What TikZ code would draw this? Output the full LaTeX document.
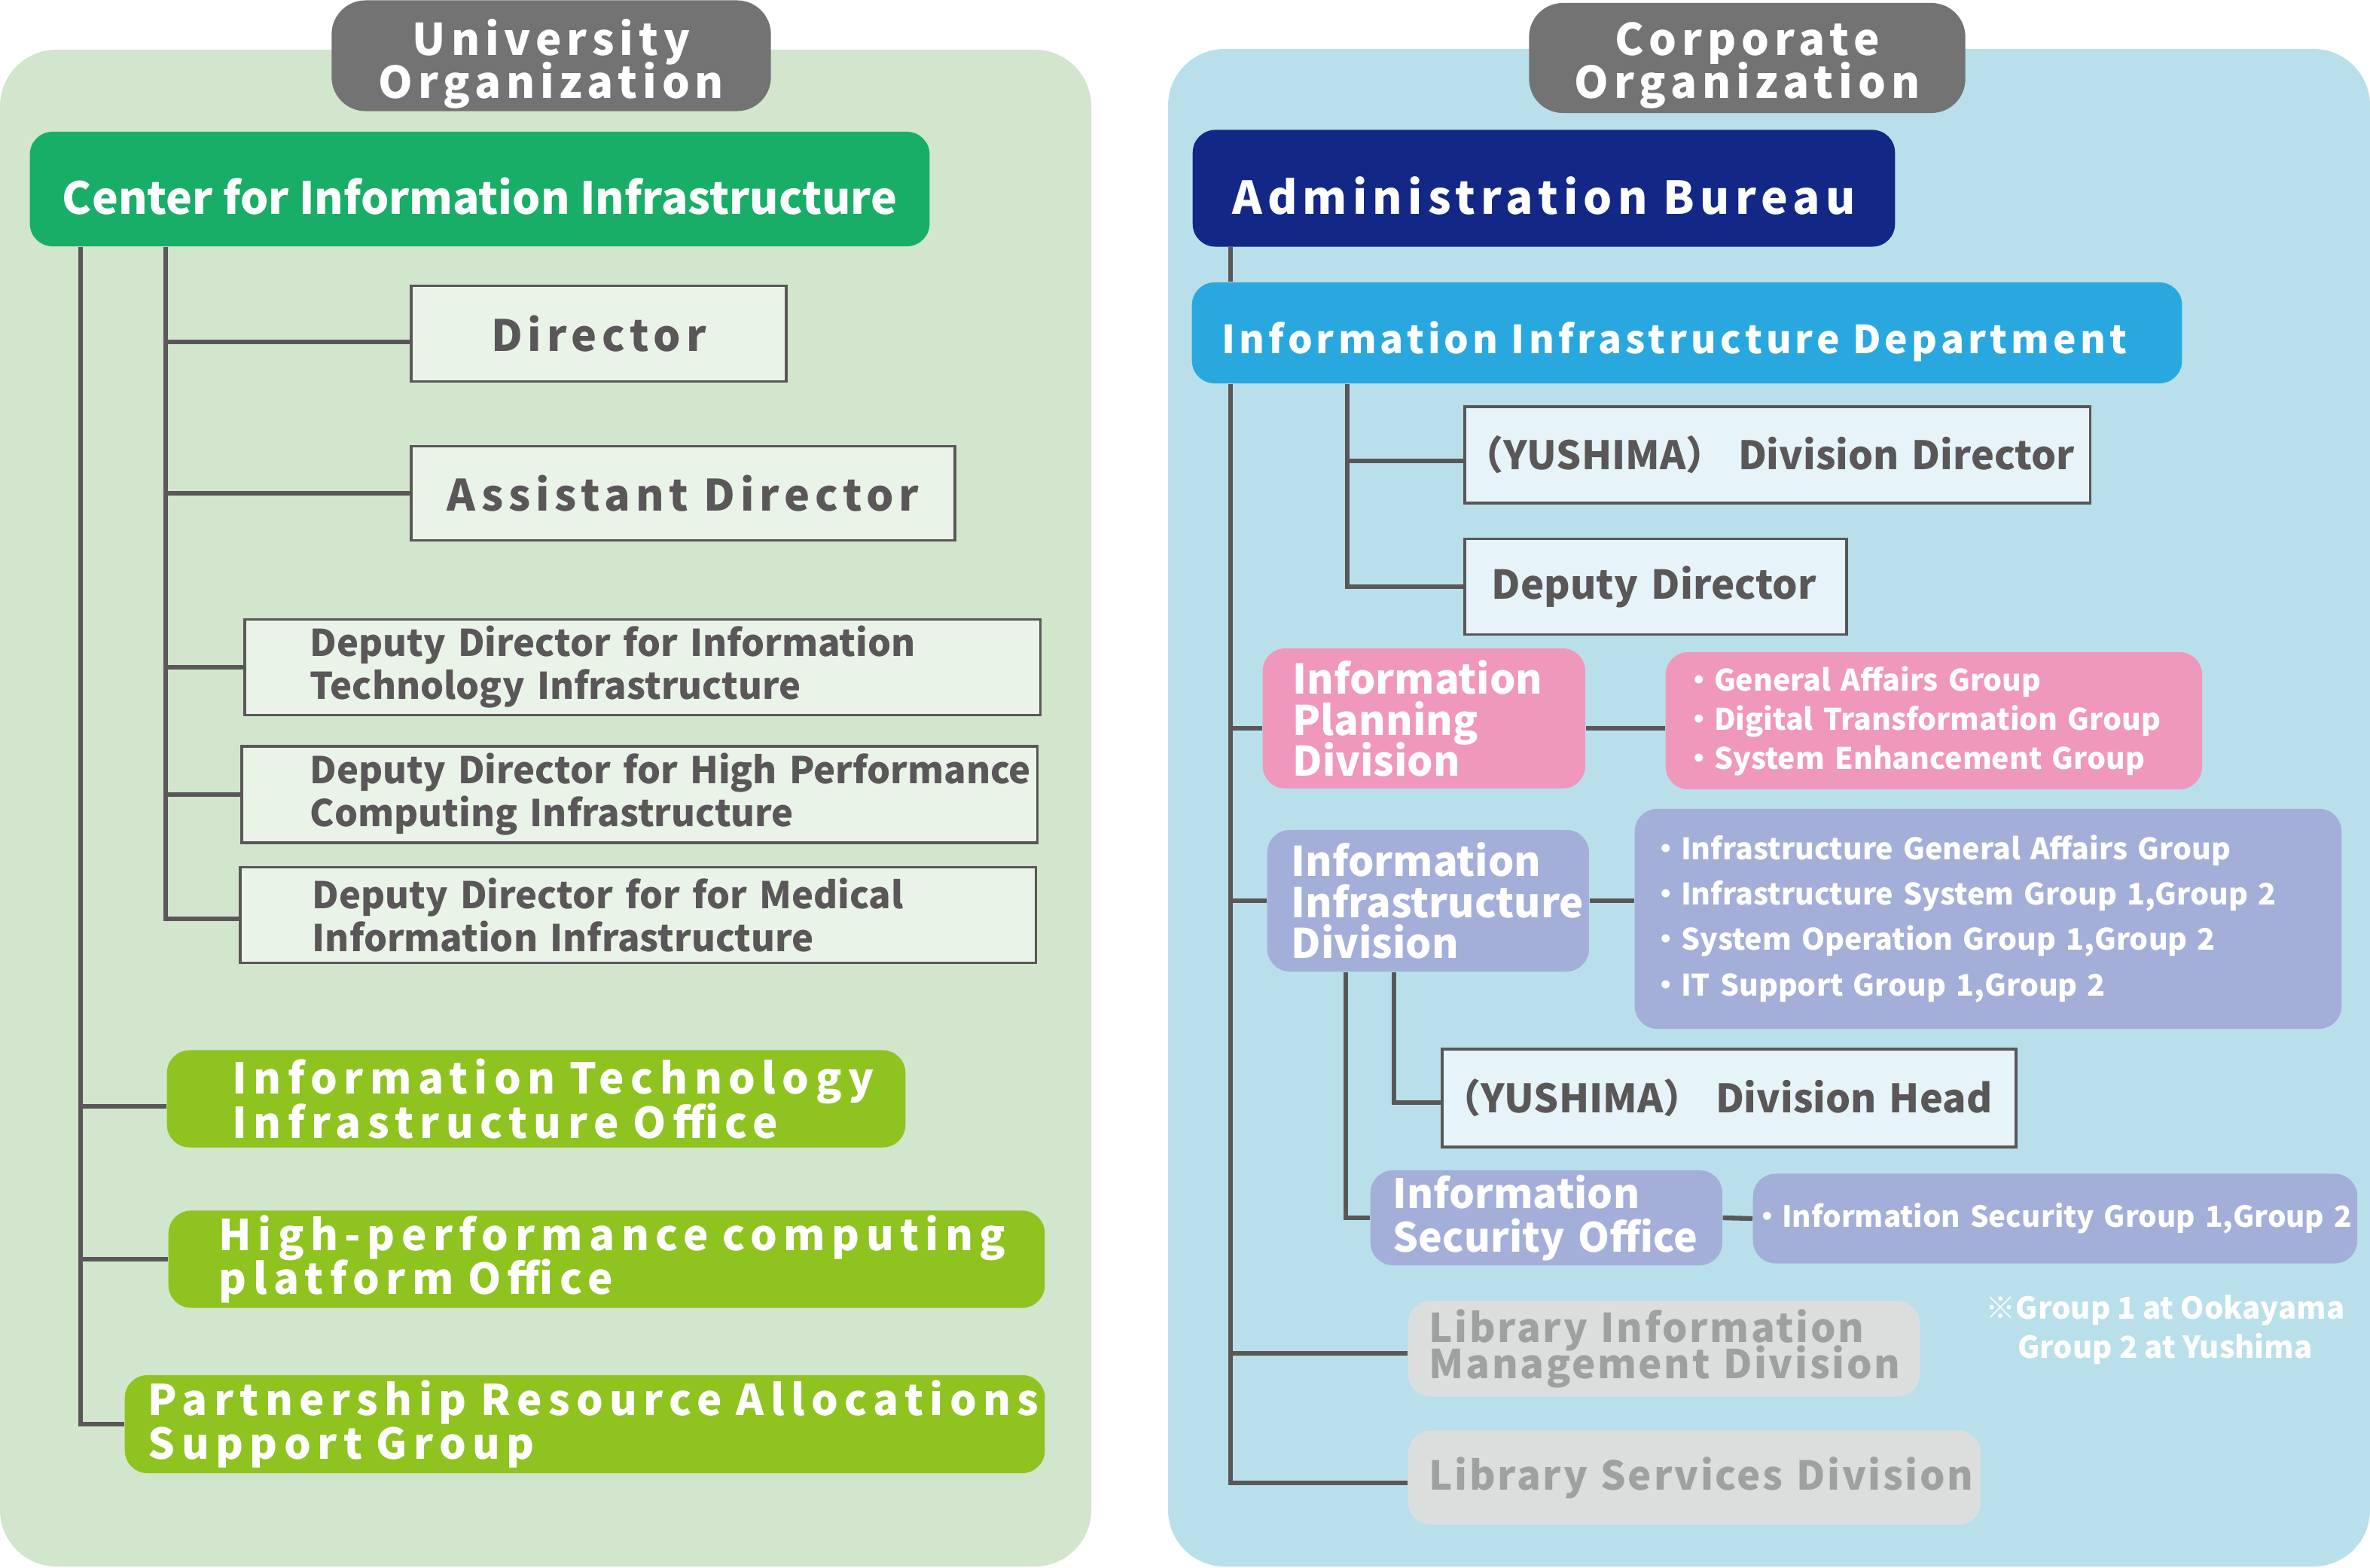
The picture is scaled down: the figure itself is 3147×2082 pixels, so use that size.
\documentclass[tikz,border=0pt]{standalone}
\usepackage{fontspec}
\setmainfont{Noto Sans CJK JP}
\newfontfamily\widefont[LetterSpace=12]{Noto Sans CJK JP}
\newfontfamily\limefont[LetterSpace=15]{Noto Sans CJK JP}
\newfontfamily\deptfont[LetterSpace=10]{Noto Sans CJK JP}
\newfontfamily\libfont[LetterSpace=5]{Noto Sans CJK JP}
\usepackage{tikz}
\usepackage{xcolor}
\lineskiplimit=-20pt
\definecolor{univbg}{HTML}{D1E6CC}
\definecolor{corpbg}{HTML}{B9E0EA}
\definecolor{tabgray}{HTML}{737373}
\definecolor{ciigreen}{HTML}{18AE67}
\definecolor{limegreen}{HTML}{8FC31F}
\definecolor{navyblue}{HTML}{132886}
\definecolor{deptblue}{HTML}{29A8E0}
\definecolor{pinkdiv}{HTML}{F097BC}
\definecolor{lavdiv}{HTML}{A3AFD8}
\definecolor{libgray}{HTML}{DCDDDD}
\definecolor{libtext}{HTML}{9FA0A0}
\definecolor{darktext}{HTML}{595757}
\definecolor{paleG}{HTML}{EAF3E7}
\definecolor{paleB}{HTML}{E6F3F8}
\tikzstyle{conn}=[draw=darktext,line width=1.8pt]
\tikzstyle{tab}=[fill=tabgray,rounded corners=0.45cm,text=white,align=center,inner sep=0,
  font={\widefont\bfseries\fontsize{16.5}{16}\selectfont\lineskiplimit=-20pt}]
\tikzstyle{plainbox}=[draw=darktext,line width=1pt,text=darktext,inner sep=0]
\tikzstyle{colbox}=[rounded corners=0.3cm,text=white,inner sep=0]
\tikzstyle{leftbox}=[anchor=west,align=left]
\tikzstyle{deputy}=[plainbox,fill=paleG,leftbox,minimum width=10.56cm,
  font={\bfseries\fontsize{13.9}{16.2}\selectfont\lineskiplimit=-20pt}]
\tikzstyle{office}=[colbox,fill=limegreen,leftbox,
  font={\limefont\bfseries\fontsize{16}{16.5}\selectfont\lineskiplimit=-20pt}]
\tikzstyle{division}=[colbox,leftbox,
  font={\bfseries\fontsize{15.4}{15.6}\selectfont\lineskiplimit=-20pt}]
\tikzstyle{groups}=[colbox,leftbox,
  font={\bfseries\fontsize{11.2}{14.8}\selectfont\lineskiplimit=-20pt}]
\tikzstyle{library}=[colbox,fill=libgray,text=libtext,leftbox,
  font={\libfont\bfseries\fontsize{15}{13.7}\selectfont\lineskiplimit=-20pt}]

\begin{document}
\begin{tikzpicture}[x=0.01cm,y=-0.01cm]
  \useasboundingbox (0,0) rectangle (3147,2082);

  % PANELS
  \fill[univbg,rounded corners=0.75cm] (0,66) rectangle (1449,2080);
  \fill[corpbg,rounded corners=0.75cm] (1551,65) rectangle (3147,2080);

  % TRUNKS
  \coordinate (tA) at (107,0);
  \coordinate (tB) at (220,0);
  \coordinate (tC) at (1634,0);
  \coordinate (tD) at (1789,0);
  \coordinate (tE) at (1787,0);
  \coordinate (tF) at (1851,0);

  % UNIVERSITY
  \node[tab,minimum width=5.83cm,minimum height=1.47cm] (univ) at (732,74)
    {\rule{0pt}{0.70cm}University\\Organization};
  \node[colbox,fill=ciigreen,minimum width=11.94cm,minimum height=1.52cm,
    text height=0.66cm,text depth=0cm,
    font={\bfseries\fontsize{16.7}{17}\selectfont}] (cii) at (637,251)
    {Center for Information Infrastructure};
  \node[plainbox,fill=paleG,minimum width=4.98cm,minimum height=1.27cm,
    font={\widefont\bfseries\fontsize{16.3}{17}\selectfont}] (dir) at (795,443) {Director};
  \node[plainbox,fill=paleG,minimum width=7.22cm,minimum height=1.25cm,
    font={\widefont\bfseries\fontsize{16.3}{17}\selectfont}] (asst) at (907,655)
    {Assistant Director};
  \node[deputy,minimum height=1.27cm,text width=8.82cm] (dep1) at (323,886)
    {\mbox{Deputy Director for Information}\\\mbox{Technology Infrastructure}};
  \node[deputy,minimum height=1.28cm,text width=8.74cm] (dep2) at (319,1055)
    {\mbox{Deputy Director for High Performance}\\\mbox{Computing Infrastructure}};
  \node[deputy,minimum height=1.27cm,text width=8.64cm] (dep3) at (317,1215)
    {\mbox{Deputy Director for for Medical}\\\mbox{Information Infrastructure}};
  \node[office,minimum width=9.80cm,minimum height=1.29cm,text width=8.06cm] (itoff) at (221,1459)
    {\mbox{Information Technology}\\\mbox{Infrastructure Office}};
  \node[office,minimum width=11.63cm,minimum height=1.29cm,text width=10.29cm] (hpc) at (223,1672)
    {\mbox{High-performance computing}\\\mbox{platform Office}};
  \node[office,minimum width=12.21cm,minimum height=1.30cm,text width=11.59cm] (prasg) at (165,1891)
    {\mbox{Partnership Resource Allocations}\\\mbox{Support Group}};

  \draw[conn] (cii.south -| tA) |- (prasg.west);
  \draw[conn] ([yshift=-0.1cm]tA |- itoff.west) -- ([yshift=-0.1cm]itoff.west);
  \draw[conn] (tA |- hpc.west) -- (hpc.west);
  \draw[conn] (cii.south -| tB) |- ([yshift=-0.05cm]dep3.west);
  \draw[conn] ([yshift=-0.11cm]tB |- dir.west) -- ([yshift=-0.11cm]dir.west);
  \draw[conn] (tB |- asst.west) -- (asst.west);
  \draw[conn] (tB |- dep1.west) -- (dep1.west);
  \draw[conn] (tB |- dep2.west) -- (dep2.west);

  % CORPORATE
  \node[tab,minimum width=5.79cm,minimum height=1.46cm] (corp) at (2320,77)
    {\rule{0pt}{0.64cm}Corporate\\Organization};
  \node[colbox,fill=navyblue,minimum width=9.32cm,minimum height=1.55cm,
    text height=0.68cm,text depth=0cm,
    font={\widefont\bfseries\fontsize{17.1}{17}\selectfont}] (admin) at (2050,250)
    {Administration Bureau};
  \node[colbox,fill=deptblue,leftbox,minimum width=13.14cm,minimum height=1.34cm,text width=12.34cm,
    text height=0.54cm,text depth=0cm,
    font={\deptfont\bfseries\fontsize{14.65}{16}\selectfont}] (dept) at (1582,442)
    {\mbox{Information Infrastructure Department}};
  \node[plainbox,fill=paleB,leftbox,minimum width=8.30cm,minimum height=1.28cm,text width=8.30cm,
    font={\bfseries\fontsize{14.8}{16}\selectfont}] (ydir) at (1943,604)
    {\mbox{（YUSHIMA） Division Director}};
  \node[plainbox,fill=paleB,leftbox,minimum width=5.07cm,minimum height=1.27cm,text width=4.35cm,
    font={\bfseries\fontsize{15}{16}\selectfont}] (ddep) at (1943,779)
    {\mbox{Deputy Director}};
  \node[division,fill=pinkdiv,minimum width=4.28cm,minimum height=1.86cm,text width=3.48cm] (ipd) at (1676,954)
    {Information\\Planning\\Division};
  \node[groups,fill=pinkdiv,minimum width=7.12cm,minimum height=1.82cm,text width=6.62cm] (ipdg) at (2211,957)
    {\mbox{・General Affairs Group}\\\mbox{・Digital Transformation Group}\\\mbox{・System Enhancement Group}};
  \node[division,fill=lavdiv,minimum width=4.27cm,minimum height=1.88cm,text width=3.63cm] (iid) at (1682,1196)
    {Information\\\mbox{Infrastructure}\\Division};
  \node[groups,fill=lavdiv,minimum width=9.38cm,minimum height=2.92cm,text width=8.94cm,
    font={\bfseries\fontsize{11.2}{17.1}\selectfont}] (iidg) at (2170,1220)
    {\mbox{・Infrastructure General Affairs Group}\\\mbox{・Infrastructure System Group 1,Group 2}\\
     \mbox{・System Operation Group 1,Group 2}\\\mbox{・IT Support Group 1,Group 2}};
  \node[plainbox,fill=paleB,leftbox,minimum width=7.62cm,minimum height=1.30cm,text width=7.62cm,
    font={\bfseries\fontsize{14.8}{16}\selectfont}] (yhead) at (1913,1458)
    {\mbox{（YUSHIMA） Division Head}};
  \node[division,fill=lavdiv,minimum width=4.67cm,minimum height=1.26cm,text width=4.07cm,
    font={\bfseries\fontsize{15.2}{16.5}\selectfont\lineskiplimit=-20pt}] (iso) at (1819,1617)
    {Information\\\mbox{Security Office}};
  \node[groups,fill=lavdiv,minimum width=8.02cm,minimum height=1.19cm,text width=8.02cm,
    font={\bfseries\fontsize{11}{14.8}\selectfont}] (isog) at (2327,1618)
    {\mbox{・Information Security Group 1,Group 2}};
  \node[library,minimum width=6.79cm,minimum height=1.27cm,text width=6.23cm] (libim) at (1869,1791)
    {\mbox{Library Information}\\\mbox{Management Division}};
  \node[library,minimum width=7.60cm,minimum height=1.25cm,text width=7.04cm] (libsvc) at (1869,1962)
    {\mbox{Library Services Division}};
  \node[text=white,align=center,inner sep=0,
    font={\bfseries\fontsize{11.4}{14.8}\selectfont\lineskiplimit=-20pt}] (note) at (2875,1766)
    {※Group 1 at Ookayama\\Group 2 at Yushima};

  \draw[conn] (admin.south -| tC) -- (dept.north -| tC);
  \draw[conn] (dept.south -| tC) |- ([yshift=-0.07cm]libsvc.west);
  \draw[conn] ([yshift=-0.13cm]tC |- ipd.west) -- ([yshift=-0.13cm]ipd.west);
  \draw[conn] (tC |- iid.west) -- (iid.west);
  \draw[conn] ([yshift=-0.06cm]tC |- libim.west) -- ([yshift=-0.06cm]libim.west);
  \draw[conn] (dept.south -| tD) |- (ddep.west);
  \draw[conn] ([yshift=-0.08cm]tD |- ydir.west) -- ([yshift=-0.08cm]ydir.west);
  \draw[conn] ([yshift=-0.13cm]ipd.east) -- ([yshift=-0.13cm]ipd.east -| ipdg.west);
  \draw[conn] (iid.east) -- (iid.east -| iidg.west);
  \draw[conn] (iid.south -| tE) |- (iso.west);
  \draw[conn] (iid.south -| tF) |- ([yshift=-0.06cm]yhead.west);
  \draw[conn] (iso.east) -- (isog.west);

\end{tikzpicture}
\end{document}
